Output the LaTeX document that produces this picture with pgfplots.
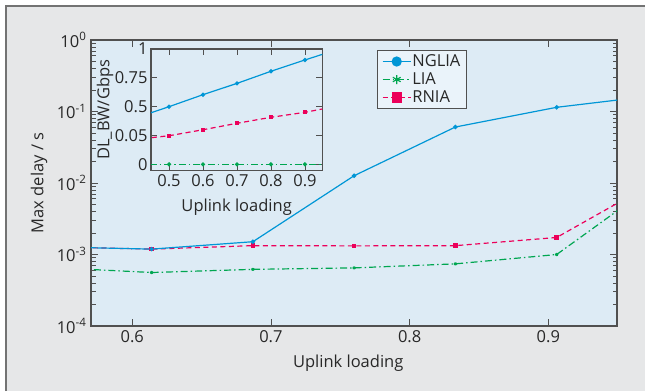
\documentclass[border=0pt]{standalone}
\usepackage{fontspec}
\setmainfont{Open Sans}
\usepackage{pgfplots}
\pgfplotsset{compat=1.18}
\definecolor{cblue}{RGB}{0,150,214}
\definecolor{cgreen}{RGB}{0,166,81}
\definecolor{cred}{RGB}{236,0,90}
\definecolor{panel}{RGB}{230,231,232}
\definecolor{plotbg}{RGB}{221,235,245}
\definecolor{legbg}{RGB}{234,243,250}
\definecolor{frame}{RGB}{80,80,80}
\definecolor{txt}{RGB}{40,40,40}
\newcommand{\bigf}{\fontsize{16.5}{18}\selectfont}
\begin{document}
\begin{tikzpicture}[x=1pt,y=1pt]
\useasboundingbox (0,0) rectangle (645,-391);
\fill[white] (0,0) rectangle (645,-391);
\fill[panel] (6,-6) rectangle (645,-391);
\draw[gray!90!black, line width=1.5pt] (6,-391) -- (6,-6) -- (645,-6);

\begin{axis}[
  at={(91pt,-326pt)}, anchor=south west,
  scale only axis, width=526pt, height=286pt,
  ymode=log, xmin=0.5703, xmax=0.9495, ymin=1e-4, ymax=1,
  axis background/.style={fill=plotbg},
  axis line style={frame, line width=1.2pt},
  tick style={frame, line width=0.8pt},
  tick align=inside,
  major tick length=7pt, minor tick length=4.5pt,
  xtick={0.6,0.7,0.8,0.9}, xticklabels={0.6,0.7,0.8,0.9},
  ytick={1e-4,1e-3,1e-2,1e-1,1},
  yticklabels={10\textsuperscript{-4},10\textsuperscript{-3},10\textsuperscript{-2},10\textsuperscript{-1},10\textsuperscript{0}},
  minor ytick={2e-4,3e-4,4e-4,5e-4,6e-4,7e-4,8e-4,9e-4,2e-3,3e-3,4e-3,5e-3,6e-3,7e-3,8e-3,9e-3,2e-2,3e-2,4e-2,5e-2,6e-2,7e-2,8e-2,9e-2,0.2,0.3,0.4,0.5,0.6,0.7,0.8,0.9},
  tick label style={font=\bigf, text=txt},
  xticklabel style={yshift=-1pt},
  yticklabel style={xshift=-1pt},
  xlabel={Uplink loading}, ylabel={Max delay / s},
  every axis x label/.style={at={(axis description cs:0.489,-0.129)}, anchor=center, font=\bigf, text=txt},
  every axis y label/.style={at={(axis description cs:-0.0989,0.5)}, rotate=90, anchor=center, font=\bigf, text=txt},
  legend style={at={(axis description cs:0.543,0.965)}, anchor=north west,
    fill=legbg, draw=frame, line width=1pt, font=\bigf, text=txt,
    inner xsep=5pt, inner ysep=2.5pt, row sep=1pt,
    nodes={text height=12pt, text depth=3pt, inner sep=1pt},
    cells={anchor=west}},
  reverse legend,
  legend image code/.code={\draw[mark repeat=2,mark phase=2,#1] plot coordinates {(0pt,0pt)(14pt,0pt)(28pt,0pt)};},
  legend image post style={mark size=4.5pt},
]
\addplot[cred, line width=1.2pt, dash pattern=on 5pt off 3.5pt, mark=square*, mark size=1.6pt, mark options={solid}]
  coordinates {(0.541,1.28e-3)(0.614,1.19e-3)(0.687,1.33e-3)(0.760,1.32e-3)(0.833,1.33e-3)(0.906,1.73e-3)(0.979,1.09e-2)};
\addlegendentry{RNIA}
\addplot[cgreen, line width=1.2pt, dash pattern=on 7pt off 3pt on 1.5pt off 3pt, mark=asterisk, mark size=1.6pt, mark options={solid}]
  coordinates {(0.541,6.6e-4)(0.614,5.6e-4)(0.687,6.2e-4)(0.760,6.5e-4)(0.833,7.4e-4)(0.906,1.0e-3)(0.979,1.05e-2)};
\addlegendentry{LIA}
\addplot[cblue, line width=1.2pt, mark=*, mark size=1.6pt]
  coordinates {(0.541,1.28e-3)(0.614,1.19e-3)(0.687,1.51e-3)(0.760,1.265e-2)(0.833,6.07e-2)(0.906,1.145e-1)(0.979,1.69e-1)};
\addlegendentry{NGLIA}
\end{axis}

\begin{axis}[
  at={(151pt,-170.7pt)}, anchor=south west,
  scale only axis, width=171.3pt, height=121.7pt,
  xmin=0.447, xmax=0.951, ymin=-0.055, ymax=1,
  axis background/.style={fill=plotbg},
  axis line style={frame, line width=1.2pt},
  tick style={frame, line width=0.8pt},
  tick align=inside, major tick length=6pt,
  xtick={0.5,0.6,0.7,0.8,0.9}, xticklabels={0.5,0.6,0.7,0.8,0.9},
  ytick={0,0.25,0.5,0.75,1}, yticklabels={0,0.05,0.5,0.75,1},
  tick label style={font=\bigf, text=txt},
  xlabel={Uplink loading}, ylabel={DL\_BW/Gbps},
  every axis x label/.style={at={(axis description cs:0.5,-0.296)}, anchor=center, font=\bigf, text=txt},
  every axis y label/.style={at={(axis description cs:-0.2685,0.5)}, rotate=90, anchor=center, font=\bigf, text=txt},
]
\addplot[cred, line width=1.2pt, dash pattern=on 5pt off 3.5pt, mark=square*, mark size=1.5pt, mark options={solid}]
  coordinates {(0.4,0.216)(0.5,0.248)(0.6,0.300)(0.7,0.356)(0.8,0.408)(0.9,0.451)(1.0,0.508)};
\addplot[cgreen, line width=1.2pt, dash pattern=on 7pt off 3pt on 1.5pt off 3pt, mark=*, mark size=1.5pt, mark options={solid}]
  coordinates {(0.4,0)(0.5,0)(0.6,0)(0.7,0)(0.8,0)(0.9,0)(1.0,0)};
\addplot[cblue, line width=1.2pt, mark=*, mark size=1.5pt]
  coordinates {(0.4,0.40)(0.5,0.50)(0.6,0.604)(0.7,0.702)(0.8,0.807)(0.9,0.905)(1.0,1.0)};
\end{axis}
\end{tikzpicture}
\end{document}
